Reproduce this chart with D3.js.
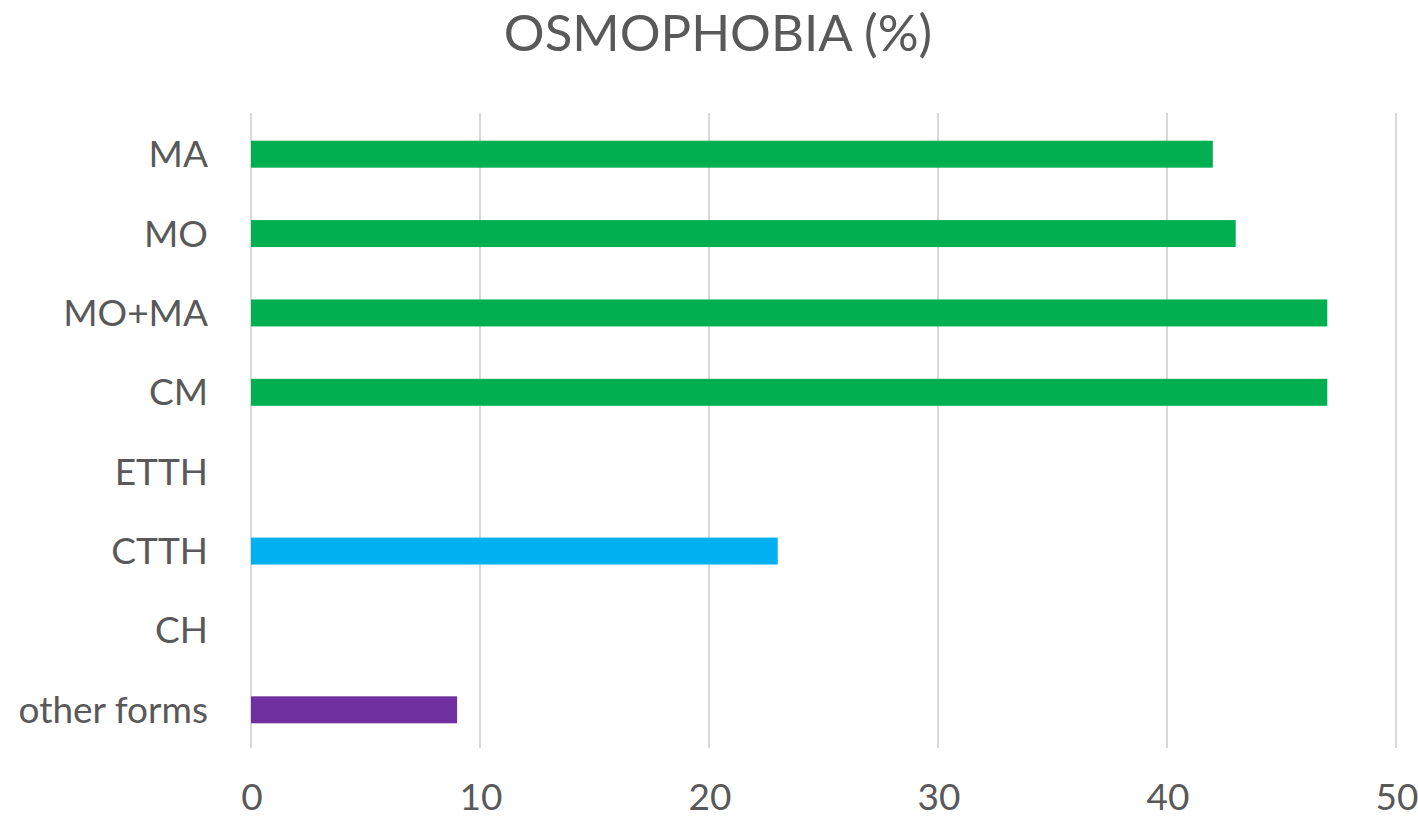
<!DOCTYPE html>
<html>
<head>
<meta charset="utf-8">
<script src="https://cdn.jsdelivr.net/npm/d3@7"></script>
<style>
  body { margin: 0; background: #fff; }
  text { font-family: Lato, "Open Sans", sans-serif; fill: #595959; }
</style>
</head>
<body>
<svg id="chart" width="1418" height="819"></svg>
<script>
const categories = ["MA", "MO", "MO+MA", "CM", "ETTH", "CTTH", "CH", "other forms"];
const values = [42, 43, 47, 47, 0, 23, 0, 9];
const barColors = ["#00b050", "#00b050", "#00b050", "#00b050", "#00b050", "#00b0f0", "#00b0f0", "#7030a0"];
const xTicks = [0, 10, 20, 30, 40, 50];
const title = "OSMOPHOBIA (%)";

const svg = d3.select("#chart");
const margin = { left: 251, right: 22, top: 113, bottom: 71 };
const width = 1418, height = 819;

const x = d3.scaleLinear().domain([0, 50]).range([margin.left, width - margin.right]);
const y = d3.scaleBand()
    .domain(categories)
    .range([margin.top, height - margin.bottom])
    .paddingInner(0.66)
    .paddingOuter(0.33);

// gridlines
svg.append("g")
    .selectAll("line")
    .data(xTicks)
    .join("line")
    .attr("x1", (d) => x(d))
    .attr("x2", (d) => x(d))
    .attr("y1", margin.top)
    .attr("y2", height - margin.bottom)
    .style("stroke", "#d9d9d9")
    .style("stroke-width", 2);

// bars
svg.append("g")
    .selectAll("rect")
    .data(categories.map((c, i) => ({ cat: c, value: values[i], color: barColors[i] })))
    .join("rect")
    .attr("x", x(0))
    .attr("y", (d) => y(d.cat) + 1.5)
    .attr("width", (d) => x(d.value) - x(0))
    .attr("height", y.bandwidth())
    .attr("fill", (d) => d.color);

// category labels
svg.append("g")
    .selectAll("text")
    .data(categories)
    .join("text")
    .attr("x", 208)
    .attr("y", (d) => y(d) + y.bandwidth() / 2 + 1.5)
    .attr("dy", "0.35em")
    .attr("text-anchor", "end")
    .style("font-size", "37px")
    .text((d) => d);

// x tick labels
svg.append("g")
    .selectAll("text")
    .data(xTicks)
    .join("text")
    .attr("x", (d) => x(d) + 1)
    .attr("y", 810)
    .attr("text-anchor", "middle")
    .style("font-size", "37px")
    .text((d) => d);

// title
svg.append("text")
    .attr("x", 718)
    .attr("y", 51)
    .attr("text-anchor", "middle")
    .style("font-size", "51px")
    .text(title);
</script>
</body>
</html>
